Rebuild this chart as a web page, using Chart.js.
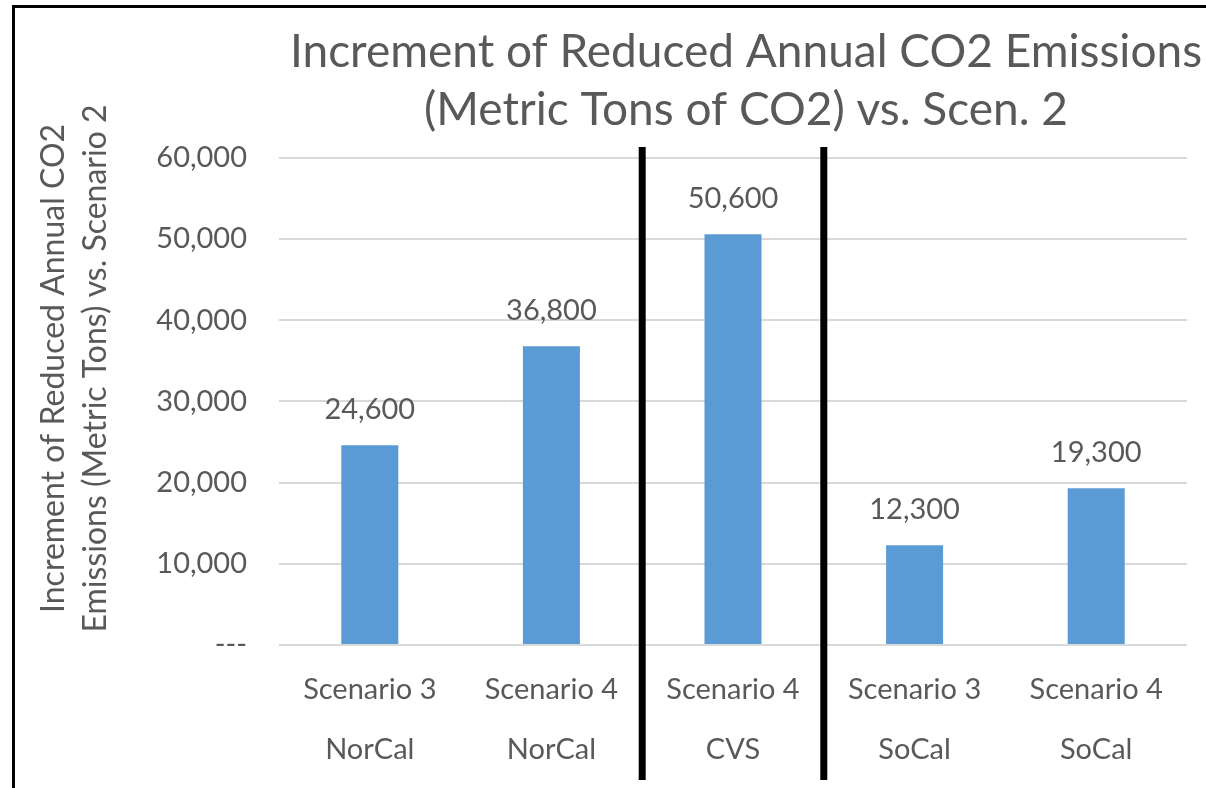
<!DOCTYPE html>
<html>
<head>
<meta charset="utf-8">
<script src="https://cdn.jsdelivr.net/npm/chart.js@4/dist/chart.umd.min.js"></script>
<style>
  html, body { margin: 0; padding: 0; background: #fff; overflow: hidden; }
  #wrap { position: relative; width: 1206px; height: 788px; overflow: hidden; }
  #chart { position: absolute; left: 0; top: 0; }
  .frame {
    position: absolute; left: 12px; top: 5px; right: -10px; bottom: -10px;
    border-left: 3px solid #000; border-top: 3px solid #000;
    pointer-events: none;
  }
</style>
</head>
<body>
<div id="wrap">
  <canvas id="chart"></canvas>
  <div class="frame"></div>
</div>
<script>
'use strict';

// categories: scenario / region
const scenarios = ['Scenario 3', 'Scenario 4', 'Scenario 4', 'Scenario 3', 'Scenario 4'];
const regions = ['NorCal', 'NorCal', 'CVS', 'SoCal', 'SoCal'];
// reduced annual CO2 vs. scenario 2 (metric tons)
const reductions = [24600, 36800, 50600, 12300, 19300];
const yTicks = [0, 10000, 20000, 30000, 40000, 50000, 60000];
// a thick divider goes before these category indexes
const dividersBefore = [2, 3];

const titleLines = ['Increment of Reduced Annual CO2 Emissions', '(Metric Tons of CO2) vs. Scen. 2'];
const yTitleLines = ['Increment of Reduced Annual CO2', 'Emissions (Metric Tons) vs. Scenario 2'];

const FONT = 'Lato';
const GREY = '#595959';

const fmt = (v) => v === 0 ? '---' : v.toLocaleString('en-US');

// region dividers drawn between categories
const dividerPlugin = {
  id: 'dividers',
  afterDatasetsDraw(chart) {
    const { ctx, chartArea, scales: { x } } = chart;
    ctx.save();
    ctx.strokeStyle = '#000';
    ctx.lineWidth = 7;
    dividersBefore.forEach(i => {
      const px = (x.getPixelForValue(i - 1) + x.getPixelForValue(i)) / 2;
      ctx.beginPath();
      ctx.moveTo(px, chartArea.top - 11);
      ctx.lineTo(px, chart.height - 8);
      ctx.stroke();
    });
    ctx.restore();
  },
};

// value labels above each bar
const valueLabelPlugin = {
  id: 'valueLabels',
  afterDatasetsDraw(chart) {
    const { ctx } = chart;
    const meta = chart.getDatasetMeta(0);
    ctx.save();
    ctx.font = `29px ${FONT}`;
    ctx.fillStyle = GREY;
    ctx.textAlign = 'center';
    ctx.textBaseline = 'middle';
    meta.data.forEach((bar, i) => {
      ctx.fillText(fmt(reductions[i]), bar.x, bar.y - 36);
    });
    ctx.restore();
  },
};

// two-line rotated y axis title
const yTitlePlugin = {
  id: 'yTitle',
  afterDraw(chart) {
    const { ctx, chartArea } = chart;
    const cy = (chartArea.top + chartArea.bottom) / 2 - 33;
    ctx.save();
    ctx.font = `32px ${FONT}`;
    ctx.fillStyle = GREY;
    ctx.textAlign = 'center';
    ctx.textBaseline = 'middle';
    [54, 96].forEach((cx, i) => {
      ctx.save();
      ctx.translate(cx, cy);
      ctx.rotate(-Math.PI / 2);
      ctx.fillText(yTitleLines[i], 0, 0);
      ctx.restore();
    });
    ctx.restore();
  },
};

// wider than the window: the title is centred on the full width and runs off the right edge
const canvas = document.getElementById('chart');
canvas.width = 1492;
canvas.height = 788;

new Chart(canvas, {
  type: 'bar',
  data: {
    labels: scenarios.map((s, i) => [s, regions[i]]),
    datasets: [{
      data: reductions,
      backgroundColor: '#5B9BD5',
      borderWidth: 0,
      categoryPercentage: 1,
      barPercentage: 0.314,
    }],
  },
  options: {
    responsive: false,
    animation: false,
    layout: { padding: 0 },
    plugins: {
      legend: { display: false },
      tooltip: { enabled: false },
      title: {
        display: true,
        text: titleLines,
        color: GREY,
        font: { family: FONT, size: 46, weight: 'normal', lineHeight: 1.26 },
        padding: { top: 23, bottom: 19 },
      },
    },
    scales: {
      x: {
        grid: { display: false, drawTicks: false },
        border: { display: false },
        ticks: {
          color: GREY,
          padding: 15,
          font: { family: FONT, size: 29, lineHeight: 2.07 },
          maxRotation: 0,
          autoSkip: false,
        },
        afterFit(scale) { scale.height = 143; },
      },
      y: {
        min: yTicks[0],
        max: yTicks[yTicks.length - 1],
        afterBuildTicks(scale) { scale.ticks = yTicks.map(v => ({ value: v })); },
        grid: { color: '#D9D9D9', lineWidth: 2, drawTicks: false },
        border: { display: false },
        ticks: {
          color: GREY,
          padding: 32,
          font: { family: FONT, size: 29 },
          callback: (v) => fmt(v),
        },
        afterFit(scale) { scale.width = 279; },
      },
      // empty right-hand axis, only reserves the space right of the plot
      yRight: {
        position: 'right',
        grid: { display: false, drawTicks: false },
        border: { display: false },
        ticks: { display: false },
        afterFit(scale) { scale.width = 305; },
      },
    },
  },
  plugins: [dividerPlugin, valueLabelPlugin, yTitlePlugin],
});
</script>
</body>
</html>
